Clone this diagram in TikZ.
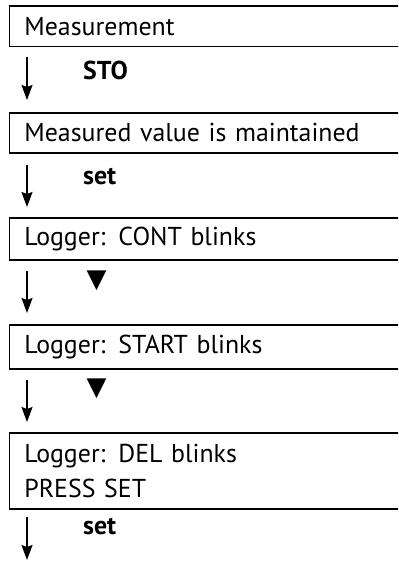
\documentclass[tikz,border=0pt]{standalone}
\usepackage{fontspec}
\setmainfont[WordSpace=0.8]{PT Sans}
\newfontfamily\symfont{DejaVu Sans}
\usetikzlibrary{arrows.meta}
\newlength\reftextwd
\settowidth\reftextwd{\fontsize{20}{24}\selectfont Measured value is maintained}
\pgfmathsetmacro\txtsize{20*327.2/\reftextwd}
\pgfmathsetmacro\txtskip{1.35*\txtsize}
\tikzset{
  x=1bp, y=1bp,
  stepbox/.style={draw, line width=1.8bp, anchor=west, minimum width=420bp,
    text width=390bp, inner xsep=12bp, inner ysep=0pt, align=left,
    font=\fontsize{\txtsize}{\txtskip}\selectfont},
  flow/.style={line width=1.5bp, -{Stealth[width=11bp,length=15bp,inset=2bp]}},
  keylabel/.style={anchor=west, inner sep=0pt, font=\fontsize{\txtsize}{\txtskip}\selectfont\bfseries},
  keytri/.style={inner sep=0pt, font=\symfont\fontsize{26}{30}\selectfont},
}
\begin{document}
\begin{tikzpicture}
\useasboundingbox (0,0) rectangle (398,561);
\clip (0,0) rectangle (398,561);
% boxes (y = 561 - y_img)
\node[stepbox, minimum height=40.5bp] (b1) at (8.5,534.75) {Measurement};
\node[stepbox, minimum height=40bp] (b2) at (8.5,428) {Measured value is maintained};
\node[stepbox, minimum height=42bp] (b3) at (8.5,322) {Logger: CONT blinks};
\node[stepbox, minimum height=44bp] (b4) at (8.5,214) {Logger: START blinks};
\node[stepbox, minimum height=76bp] (b5) at (8.5,90) {Logger: DEL blinks\\PRESS SET};
% arrows
\coordinate (a1s) at (27,504); \coordinate (a1e) at (27,461);
\coordinate (a2s) at (27,396); \coordinate (a2e) at (27,354);
\coordinate (a3s) at (27,290); \coordinate (a3e) at (27,248);
\coordinate (a4s) at (27,181); \coordinate (a4e) at (27,139);
\coordinate (a5s) at (27,44);  \coordinate (a5e) at (27,1);
\draw[flow] (a1s) -- (a1e);
\draw[flow] (a2s) -- (a2e);
\draw[flow] (a3s) -- (a3e);
\draw[flow] (a4s) -- (a4e);
\draw[flow] (a5s) -- (a5e);
% key labels
\node[keylabel] (k1) at (83,491) {STO};
\node[keylabel] (k2) at (83,384) {set};
\node[keytri] (k3) at (96.5,280) {▼};
\node[keytri] (k4) at (96.5,172) {▼};
\node[keylabel] (k5) at (83,34) {set};
\end{tikzpicture}
\end{document}
